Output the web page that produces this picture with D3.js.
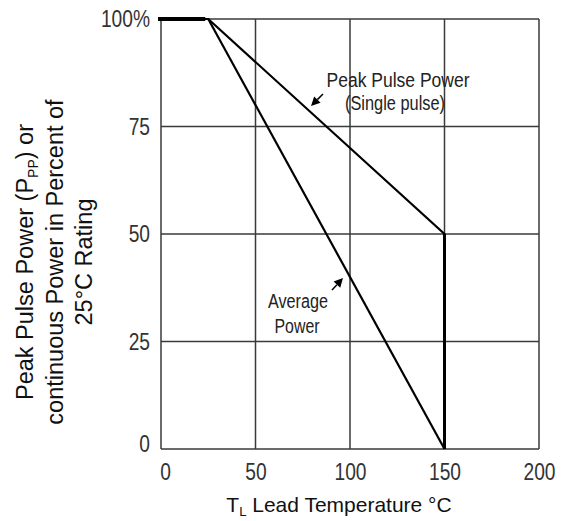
<!DOCTYPE html>
<html><head><meta charset="utf-8">
<script src="https://cdn.jsdelivr.net/npm/d3@7/dist/d3.min.js"></script>
<style>
html,body{margin:0;padding:0;background:#fff;}
svg{display:block;}
.narrow{font-family:"Liberation Sans Narrow","Arial Narrow","Liberation Sans",Arial,sans-serif;}
.sans{font-family:"Liberation Sans",Arial,Helvetica,sans-serif;}
</style>
</head><body>
<script>
// ---- data ----
const xTicks = [0, 50, 100, 150, 200];
const yTicks = [0, 25, 50, 75, 100];
const yTickLabels = ["0", "25", "50", "75", "100%"];
const peakTemp = [0, 25, 150, 150];
const peakPower = [100, 100, 50, 0];
const avgTemp = [25, 150];
const avgPower = [100, 0];
const annotationPeak = ["Peak Pulse Power", "(Single pulse)"];
const annotationAvg = ["Average", "Power"];

const W = 561, H = 521;
const svg = d3.select("body").append("svg").attr("width", W).attr("height", H);
const x = d3.scaleLinear().domain([0, 200]).range([161, 539]);
const y = d3.scaleLinear().domain([0, 100]).range([449, 19]);

function condense(sel, f) {
  sel.each(function () {
    const len = this.getComputedTextLength();
    d3.select(this).attr("textLength", len * f).attr("lengthAdjust", "spacingAndGlyphs");
  });
}

const gridColor = "#3a3a3a";
svg.append("g").selectAll("line").data(xTicks).join("line")
  .attr("x1", d => x(d)).attr("x2", d => x(d)).attr("y1", y(0)).attr("y2", y(100))
  .attr("stroke", gridColor).attr("stroke-width", 1.5);
svg.append("g").selectAll("line").data(yTicks).join("line")
  .attr("x1", x(0)).attr("x2", x(200)).attr("y1", d => y(d)).attr("y2", d => y(d))
  .attr("stroke", gridColor).attr("stroke-width", 1.5);

// tick labels
const xAxis = d3.axisBottom(x).tickValues(xTicks).tickSize(0).tickPadding(14);
const gx = svg.append("g").attr("transform", `translate(0,${y(0)})`).call(xAxis);
gx.select(".domain").remove();
gx.selectAll("text").attr("class", "narrow").attr("font-size", 24).attr("fill", "#333")
  .attr("dx", d => d === 0 ? 4 : 0).call(condense, 0.8);

const yAxis = d3.axisLeft(y).tickValues(yTicks).tickFormat((d, i) => yTickLabels[i]).tickSize(0).tickPadding(11);
const gy = svg.append("g").attr("transform", `translate(${x(0)},0)`).call(yAxis);
gy.select(".domain").remove();
gy.selectAll("text").attr("class", "narrow").attr("font-size", 24).attr("fill", "#333")
  .attr("dy", d => d === 0 ? "0.1em" : "0.32em").call(condense, 0.8);

// data lines
const line = d3.line().x(d => x(d[0])).y(d => y(d[1]));
const peak = peakTemp.map((t, i) => [t, peakPower[i]]);
const avg = avgTemp.map((t, i) => [t, avgPower[i]]);
svg.append("path").attr("d", line(peak)).attr("fill", "none").attr("stroke", "#000").attr("stroke-width", 2.2);
svg.append("path").attr("d", line(avg)).attr("fill", "none").attr("stroke", "#000").attr("stroke-width", 2.2);
svg.append("path").attr("d", line(peak.slice(0, 2))).attr("fill", "none").attr("stroke", "#000").attr("stroke-width", 4)
  .attr("transform", "translate(-3,0)");
svg.append("path").attr("d", line(peak.slice(2, 4))).attr("fill", "none").attr("stroke", "#000").attr("stroke-width", 3);

// annotations
const ann = svg.append("g").attr("class", "narrow").attr("font-size", 20).attr("fill", "#222").attr("text-anchor", "middle");
ann.append("text").attr("x", 398).attr("y", 87).text(annotationPeak[0]).attr("textLength", 143).attr("lengthAdjust", "spacingAndGlyphs");
ann.append("text").attr("x", 395).attr("y", 110).text(annotationPeak[1]).attr("textLength", 100).attr("lengthAdjust", "spacingAndGlyphs");
ann.append("text").attr("x", 298).attr("y", 308).text(annotationAvg[0]).attr("textLength", 60).attr("lengthAdjust", "spacingAndGlyphs");
ann.append("text").attr("x", 297).attr("y", 333).text(annotationAvg[1]).attr("textLength", 45).attr("lengthAdjust", "spacingAndGlyphs");

function arrow(x1, y1, x2, y2) {
  const ang = Math.atan2(y2 - y1, x2 - x1);
  const L = 9, w = 4.5;
  const bx = x2 - L * Math.cos(ang), by = y2 - L * Math.sin(ang);
  svg.append("line").attr("x1", x1).attr("y1", y1).attr("x2", bx).attr("y2", by)
    .attr("stroke", "#000").attr("stroke-width", 1.5);
  const px = -Math.sin(ang) * w, py = Math.cos(ang) * w;
  svg.append("path").attr("d", `M${x2},${y2}L${bx + px},${by + py}L${bx - px},${by - py}Z`).attr("fill", "#000");
}
arrow(323, 94, 311, 106);
arrow(332, 290, 343, 278);

// axis titles
const xt = svg.append("text").attr("class", "sans").attr("font-size", 21).attr("fill", "#111")
  .attr("text-anchor", "middle").attr("x", 339).attr("y", 512);
xt.append("tspan").text("T");
xt.append("tspan").attr("font-size", 13).attr("dy", 4).text("L");
xt.append("tspan").attr("dy", -4).text(" Lead Temperature °C");

const yt = svg.append("text").attr("class", "sans").attr("font-size", 23.5).attr("fill", "#111")
  .attr("text-anchor", "middle").attr("transform", "translate(33,262) rotate(-90)");
yt.append("tspan").attr("x", 0).attr("y", 0).text("Peak Pulse Power (P");
yt.append("tspan").attr("font-size", 14).attr("dy", 5).text("PP");
yt.append("tspan").attr("dy", -5).text(") or");
yt.append("tspan").attr("x", 0).attr("y", 30).text("continuous Power in Percent of");
yt.append("tspan").attr("x", 0).attr("y", 59).text("25°C Rating");
</script>
</body></html>
